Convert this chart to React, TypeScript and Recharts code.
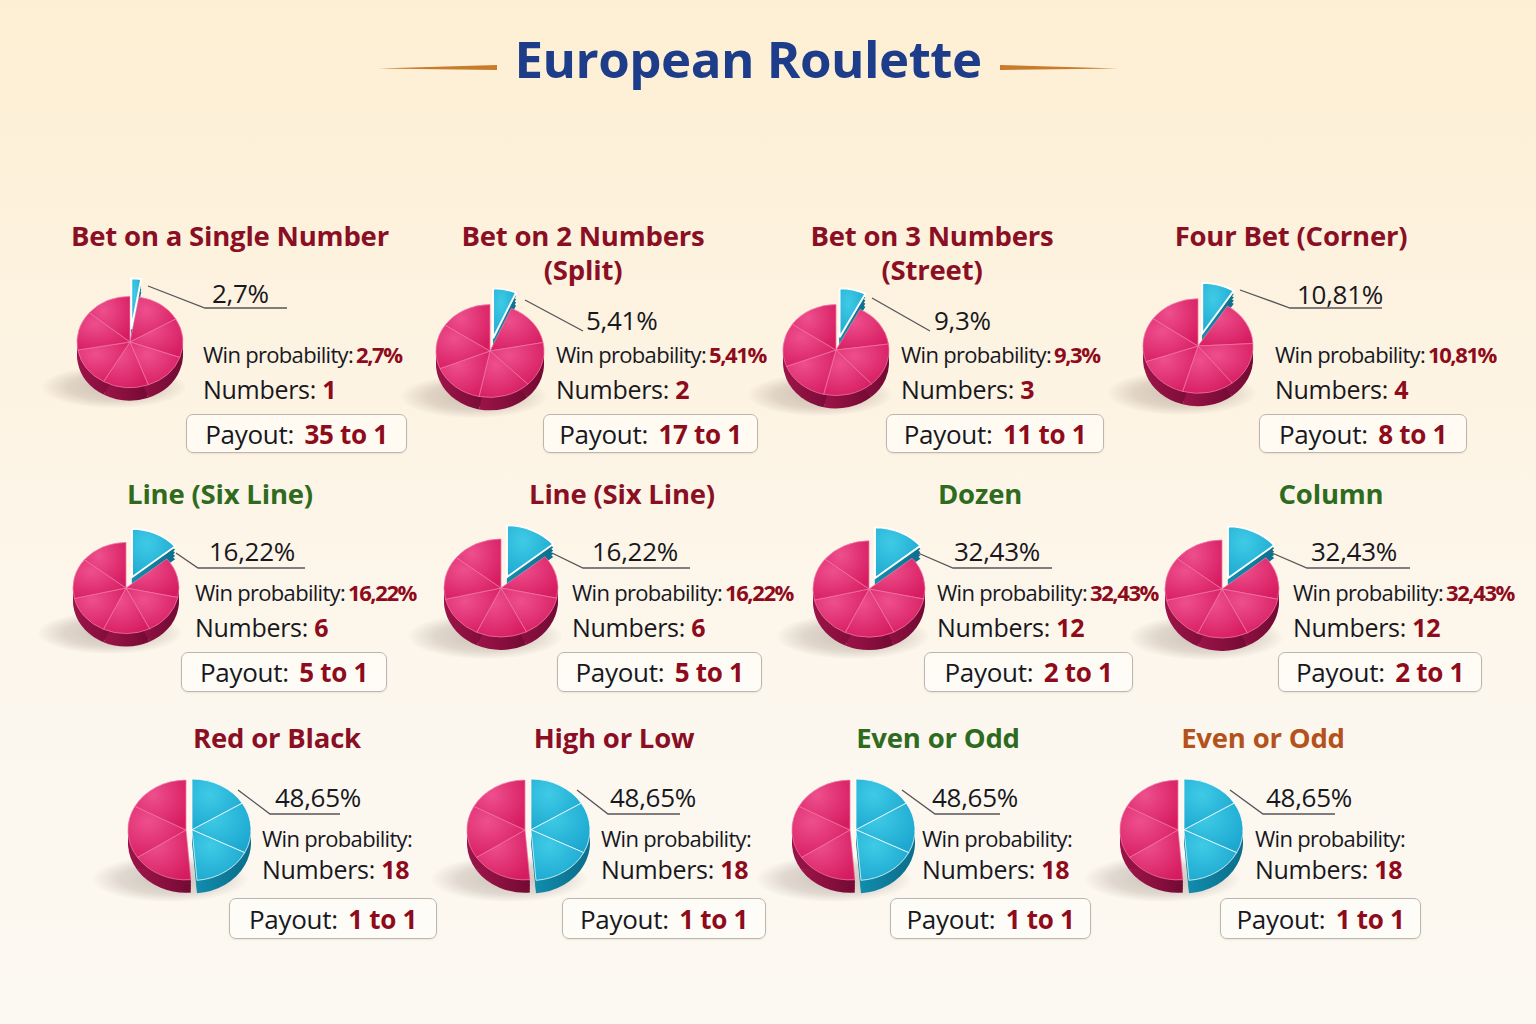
import React from "react";
import { PieChart, Pie, Cell } from "recharts";

// ---------- data ----------
const betNames: string[][] = [
  ["Bet on a Single Number"],
  ["Bet on 2 Numbers", "(Split)"],
  ["Bet on 3 Numbers", "(Street)"],
  ["Four Bet (Corner)"],
  ["Line (Six Line)"],
  ["Line (Six Line)"],
  ["Dozen"],
  ["Column"],
  ["Red or Black"],
  ["High or Low"],
  ["Even or Odd"],
  ["Even or Odd"],
];
const winProbLabels = ["2,7%", "5,41%", "9,3%", "10,81%", "16,22%", "16,22%", "32,43%", "32,43%", "48,65%", "48,65%", "48,65%", "48,65%"];
const winValueShown = [true, true, true, true, true, true, true, true, false, false, false, false];
const numbersCount = [1, 2, 3, 4, 6, 6, 12, 12, 18, 18, 18, 18];
const payouts = ["35 to 1", "17 to 1", "11 to 1", "8 to 1", "5 to 1", "5 to 1", "2 to 1", "2 to 1", "1 to 1", "1 to 1", "1 to 1", "1 to 1"];
// share of the pie drawn as the winning (cyan) slice
const pieWinShare = [2.7, 6.5, 7.5, 9, 14, 14, 14, 14, 48.65, 48.65, 48.65, 48.65];
const winSegments = [1, 1, 1, 1, 1, 1, 1, 1, 3, 3, 3, 3];
const loseSegments = [7, 6, 6, 6, 6, 6, 6, 6, 3, 3, 3, 3];

// ---------- styles / layout ----------
const titleColors = ["#8a0f24", "#8a0f24", "#8a0f24", "#8a0f24", "#2f6b1f", "#8a0f24", "#2f6b1f", "#2f6b1f", "#8a0f24", "#8a0f24", "#2f6b1f", "#b4521c"];
type L = {
  pcx: number; pcy: number; r: number; tx: number; ty: number;
  lx: number; ly: number; lead: number[]; wx: number; wy: number; ny: number; box: number[]; ex: number; er: number;
};
const layout: L[] = [
  { pcx: 130, pcy: 342, r: 53, tx: 230, ty: 236, lx: 212, ly: 293, lead: [148, 286, 205, 308, 287], wx: 203, wy: 354, ny: 389, box: [186, 414, 407, 453], ex: 15, er: 6 },
  { pcx: 490, pcy: 351, r: 54, tx: 583, ty: 236, lx: 586, ly: 320, lead: [525, 300, 583, 331, 583], wx: 556, wy: 354, ny: 389, box: [543, 414, 758, 453], ex: 15, er: 4 },
  { pcx: 836, pcy: 350, r: 53, tx: 932, ty: 236, lx: 934, ly: 320, lead: [872, 298, 930, 331, 930], wx: 901, wy: 354, ny: 389, box: [886, 414, 1104, 453], ex: 15, er: 4 },
  { pcx: 1198, pcy: 346, r: 55, tx: 1291, ty: 236, lx: 1297, ly: 294, lead: [1240, 290, 1290, 308, 1382], wx: 1275, wy: 354, ny: 389, box: [1259, 414, 1467, 453], ex: 15, er: 4 },
  { pcx: 126, pcy: 588, r: 53, tx: 220, ty: 494, lx: 209, ly: 551, lead: [176, 553, 198, 568, 305], wx: 195, wy: 592, ny: 627, box: [181, 652, 387, 692], ex: 14, er: 3 },
  { pcx: 501, pcy: 588, r: 57, tx: 622, ty: 494, lx: 592, ly: 551, lead: [552, 553, 583, 568, 690], wx: 572, wy: 592, ny: 627, box: [557, 652, 762, 692], ex: 14, er: 3 },
  { pcx: 869, pcy: 589, r: 56, tx: 980, ty: 494, lx: 954, ly: 551, lead: [918, 553, 953, 568, 1052], wx: 937, wy: 592, ny: 627, box: [924, 652, 1133, 692], ex: 14, er: 3 },
  { pcx: 1222, pcy: 589, r: 57, tx: 1331, ty: 494, lx: 1311, ly: 551, lead: [1272, 553, 1307, 568, 1410], wx: 1293, wy: 592, ny: 627, box: [1278, 652, 1482, 692], ex: 14, er: 3 },
  { pcx: 186, pcy: 830, r: 58, tx: 277, ty: 738, lx: 275, ly: 797, lead: [238, 790, 270, 814, 340], wx: 262, wy: 838, ny: 869, box: [229, 898, 437, 939], ex: 6, er: 1 },
  { pcx: 525, pcy: 830, r: 58, tx: 614, ty: 738, lx: 610, ly: 797, lead: [577, 790, 608, 814, 680], wx: 601, wy: 838, ny: 869, box: [562, 898, 766, 939], ex: 6, er: 1 },
  { pcx: 850, pcy: 830, r: 58, tx: 938, ty: 738, lx: 932, ly: 797, lead: [902, 790, 935, 814, 1000], wx: 922, wy: 838, ny: 869, box: [890, 898, 1091, 939], ex: 6, er: 1 },
  { pcx: 1178, pcy: 830, r: 58, tx: 1263, ty: 738, lx: 1266, ly: 797, lead: [1230, 790, 1263, 814, 1335], wx: 1255, wy: 838, ny: 869, box: [1220, 898, 1421, 939], ex: 6, er: 1 },
];

const FONT = "'Open Sans', 'Noto Sans', sans-serif";
const DARK = "#18181e";
const RED = "#8e0b1c";
const TILT = 0.86;
const DEPTH = 15;
const depthSteps = [DEPTH / 4, DEPTH / 2, (3 * DEPTH) / 4, DEPTH];

function RoulettePie({ idx }: { idx: number }) {
  const Ly = layout[idx];
  const r = Ly.r;
  const share = pieWinShare[idx];
  const data: { name: string; value: number }[] = [];
  for (let i = 0; i < winSegments[idx]; i++) data.push({ name: "win", value: share / winSegments[idx] });
  for (let i = 0; i < loseSegments[idx]; i++) data.push({ name: "lose", value: (100 - share) / loseSegments[idx] });
  const W = 2 * r + 80;
  const H = 2 * r + 80 + DEPTH;
  const cx = W / 2;
  const cy = r + 40;
  const mid = ((90 - (3.6 * share) / 2) * Math.PI) / 180;
  const ex = Ly.ex * Math.cos(mid);
  const ey = -Ly.ex * Math.sin(mid);
  const id = `p${idx}`;
  const pieProps = {
    data,
    dataKey: "value",
    startAngle: 90,
    endAngle: -270,
    isAnimationActive: false,
  };
  return (
    <div
      style={{
        position: "absolute",
        left: Ly.pcx - cx,
        top: Ly.pcy - cy,
        width: W,
        height: H,
        transform: `scaleY(${TILT})`,
        transformOrigin: `${cx}px ${cy}px`,
      }}
    >
      <PieChart width={W} height={H} margin={{ top: 0, right: 0, bottom: 0, left: 0 }}>
        <defs>
          <radialGradient id={`${id}pk`} cx="35%" cy="30%" r="80%">
            <stop offset="0%" stopColor="#ee4f8d" />
            <stop offset="100%" stopColor="#d61c60" />
          </radialGradient>
          <radialGradient id={`${id}cy`} cx="35%" cy="30%" r="80%">
            <stop offset="0%" stopColor="#3fcbe6" />
            <stop offset="100%" stopColor="#1ba6cf" />
          </radialGradient>
          <linearGradient id={`${id}pd`} x1="0" y1="0" x2="1" y2="0">
            <stop offset="0%" stopColor="#9c1449" />
            <stop offset="100%" stopColor="#730a33" />
          </linearGradient>
          <linearGradient id={`${id}cd`} x1="0" y1="0" x2="1" y2="0">
            <stop offset="0%" stopColor="#128fb0" />
            <stop offset="100%" stopColor="#0b6f8c" />
          </linearGradient>
        </defs>
        {depthSteps.map((d) => (
          <Pie key={`cd${d}`} {...pieProps} outerRadius={r + Ly.er} cx={cx + ex} cy={cy + ey + d} stroke="none">
            {data.map((e, i) => (
              <Cell key={i} fill={e.name === "win" ? `url(#${id}cd)` : "none"} stroke="none" />
            ))}
          </Pie>
        ))}
        {depthSteps.map((d) => (
          <Pie key={`pd${d}`} {...pieProps} outerRadius={r} cx={cx} cy={cy + d} stroke="none">
            {data.map((e, i) => (
              <Cell key={i} fill={e.name === "lose" ? `url(#${id}pd)` : "none"} stroke="none" />
            ))}
          </Pie>
        ))}
        <Pie {...pieProps} outerRadius={r} cx={cx} cy={cy}>
          {data.map((e, i) => (
            <Cell key={i} fill={e.name === "lose" ? `url(#${id}pk)` : "none"} stroke={e.name === "lose" ? "#f27aa7" : "none"} strokeWidth={0.8} />
          ))}
        </Pie>
        <Pie {...pieProps} outerRadius={r + Ly.er} cx={cx + ex} cy={cy + ey}>
          {data.map((e, i) => (
            <Cell key={i} fill={e.name === "win" ? `url(#${id}cy)` : "none"} stroke={e.name === "win" ? "#ffffff" : "none"} strokeWidth={winSegments[idx] > 1 ? 0.8 : 2} />
          ))}
        </Pie>
      </PieChart>
    </div>
  );
}

function Card({ idx }: { idx: number }) {
  const Ly = layout[idx];
  const [bx1, by1, bx2, by2] = Ly.box;
  const abs = (x: number, y: number): React.CSSProperties => ({
    position: "absolute",
    left: x,
    top: y,
    transform: "translateY(-50%)",
    lineHeight: 1,
    whiteSpace: "nowrap",
    fontFamily: FONT,
  });
  return (
    <>
      {betNames[idx].map((t, k) => (
        <div
          key={k}
          style={{
            ...abs(Ly.tx, Ly.ty + k * 34),
            transform: "translate(-50%, -50%)",
            fontSize: 27.5,
            fontWeight: 700,
            color: titleColors[idx],
            letterSpacing: -0.2,
          }}
        >
          {t}
        </div>
      ))}
      {/* shadow */}
      <div
        style={{
          position: "absolute",
          left: Ly.pcx - 1.35 * Ly.r - 16,
          top: Ly.pcy + 0.45 * Ly.r,
          width: 2.7 * Ly.r,
          height: 0.8 * Ly.r,
          borderRadius: "50%",
          background: "radial-gradient(ellipse at center, rgba(150,130,120,0.45) 0%, rgba(150,130,120,0.28) 45%, rgba(150,130,120,0) 72%)",
        }}
      />
      <RoulettePie idx={idx} />
      <div style={{ ...abs(Ly.lx, Ly.ly), fontSize: 26, fontWeight: 500, color: DARK, letterSpacing: -0.3 }}>{winProbLabels[idx]}</div>
      <div style={{ ...abs(Ly.wx, Ly.wy), fontSize: 22, fontWeight: 500, color: DARK, letterSpacing: -0.7 }}>
        Win probability:
        {winValueShown[idx] && (
          <span style={{ color: RED, fontWeight: 700, marginLeft: 3, letterSpacing: -1.4 }}>{winProbLabels[idx]}</span>
        )}
      </div>
      <div style={{ ...abs(Ly.wx, Ly.ny), fontSize: 25, fontWeight: 500, color: DARK, letterSpacing: -0.3 }}>
        Numbers: <span style={{ color: RED, fontWeight: 700 }}>{numbersCount[idx]}</span>
      </div>
      <div
        style={{
          position: "absolute",
          left: bx1,
          top: by1,
          width: bx2 - bx1,
          height: by2 - by1,
          boxSizing: "border-box",
          border: "1.5px solid #bdb6ae",
          borderRadius: 7,
          background: "rgba(255,253,249,0.7)",
          boxShadow: "0 1px 2px rgba(0,0,0,0.08)",
          display: "flex",
          alignItems: "center",
          justifyContent: "center",
          fontFamily: FONT,
          fontSize: 26,
          fontWeight: 500,
          color: DARK,
          letterSpacing: -0.3,
          whiteSpace: "nowrap",
        }}
      >
        Payout:&nbsp;<span style={{ color: RED, fontWeight: 700, marginLeft: 4 }}>{payouts[idx]}</span>
      </div>
    </>
  );
}

export default function App() {
  return (
    <div
      style={{
        position: "absolute",
        left: 0,
        top: 0,
        width: 1536,
        height: 1024,
        overflow: "hidden",
        background: "linear-gradient(180deg, #fdefd3 0%, #fdf3e2 35%, #fcf7ee 70%, #fcf9f2 100%)",
      }}
    >
      <div
        style={{
          position: "absolute",
          left: 748,
          top: 58,
          transform: "translate(-50%, -50%)",
          fontFamily: FONT,
          fontWeight: 700,
          fontSize: 51,
          color: "#1d3d8a",
          lineHeight: 1,
          whiteSpace: "nowrap",
          letterSpacing: -0.5,
        }}
      >
        European Roulette
      </div>
      {layout.map((_, i) => (
        <Card key={i} idx={i} />
      ))}
      <svg width={1536} height={1024} style={{ position: "absolute", left: 0, top: 0, pointerEvents: "none" }}>
        <polygon points="378,68.5 497,65 497,70" fill="#c97b2c" />
        <polygon points="1000,65 1000,70 1118,68.5" fill="#c97b2c" />
        {layout.map((Ly, i) => {
          const [x0, y0, x1, y1, x2] = Ly.lead;
          return (
            <polyline
              key={i}
              points={`${x0},${y0} ${x1},${y1} ${x2},${y1}`}
              fill="none"
              stroke="#55555a"
              strokeWidth={1.3}
            />
          );
        })}
      </svg>
    </div>
  );
}
